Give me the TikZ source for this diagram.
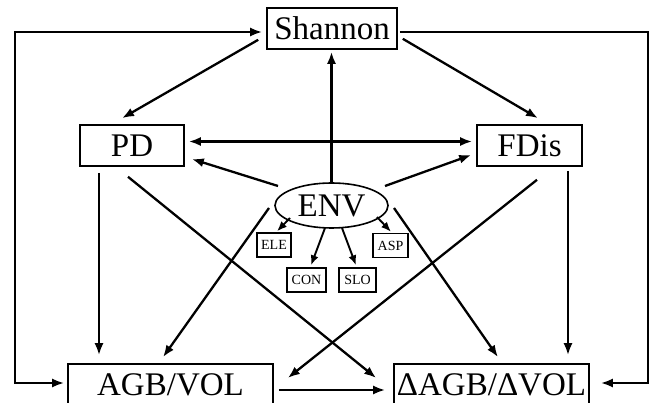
\documentclass[tikz,border=0pt]{standalone}
\usepackage{fontspec}
\setmainfont{Liberation Serif}
\usetikzlibrary{calc,arrows.meta,shapes.geometric}
\begin{document}
\begin{tikzpicture}[x=1pt,y=-1pt,
  bigbox/.style={draw, line width=1.6pt, minimum height=41pt, inner sep=0pt, font=\fontsize{33}{36}\selectfont},
  smallbox/.style={draw, line width=1.4pt, minimum height=24pt, inner sep=0pt, font=\fontsize{14}{16}\selectfont},
  envnode/.style={draw, ellipse, line width=1.6pt, minimum width=113pt, minimum height=45pt, inner sep=0pt, font=\fontsize{33}{36}\selectfont},
  arr/.style={line width=2.3pt, -{Latex[length=12pt,width=9pt]}},
  darr/.style={line width=2.3pt, {Latex[length=12pt,width=9pt]}-{Latex[length=12pt,width=9pt]}},
  sarr/.style={line width=1.9pt, -{Latex[length=10pt,width=8pt]}}]
\clip (0,0) rectangle (654,403);
\fill[white] (0,0) rectangle (654,403);
% nodes
\node[bigbox, minimum width=130pt] (Shannon) at (332,28.5) {Shannon};
\node[bigbox, minimum width=104pt] (PD) at (132,145.5) {PD};
\node[bigbox, minimum width=105pt] (FDis) at (529.5,145.5) {FDis};
\node[envnode] (ENV) at (331.5,205.5) {ENV};
\node[smallbox, minimum width=34pt] (ELE) at (274,245) {ELE};
\node[smallbox, minimum width=35pt] (ASP) at (390.5,245.5) {ASP};
\node[smallbox, minimum width=39pt] (CON) at (306.5,280) {CON};
\node[smallbox, minimum width=37pt] (SLO) at (357.5,280) {SLO};
\node[bigbox, minimum width=205pt] (AGB) at (170.5,384.5) {AGB/VOL};
\node[bigbox, minimum width=195pt] (DAGB) at (491.5,384.5) {ΔAGB/ΔVOL};
% connectors
\draw[arr] ($(Shannon.south west)+(-8,-10)$) -- ($(PD.north)+(-10,-6)$);
\draw[arr] ($(Shannon.south east)+(5,-11)$) -- ($(FDis.north)+(8.5,-6)$);
\draw[arr, shorten >=2pt] (ENV.north) -- (ENV.north |- Shannon.south);
\draw[darr] ($(PD.east)+(4,-4)$) -- ($(FDis.west)+(-4,-4)$);
\draw[arr] ($(ENV.center)+(-53.5,-19.5)$) -- ($(PD.east)+(7,13.5)$);
\draw[arr] ($(ENV.center)+(53.5,-19.5)$) -- ($(FDis.west)+(-5,9.5)$);
\draw[sarr] ($(ENV.center)+(-41.5,12.5)$) -- ($(ELE.north)+(3,-1)$);
\draw[sarr] ($(ENV.center)+(45.5,11.5)$) -- ($(ASP.north)+(0.5,-1)$);
\draw[sarr] ($(ENV.center)+(-6.5,22.5)$) -- ($(CON.north)+(4.5,-2)$);
\draw[sarr] ($(ENV.center)+(10.5,22.5)$) -- ($(SLO.north)+(-1.5,-2)$);
\draw[arr] ($(PD.south)+(-33,6)$) -- ($(AGB.north)+(-71.5,-8)$);
\draw[arr] ($(PD.south)+(-4,10)$) -- ($(DAGB.west)+(-17,-6.5)$);
\draw[arr] ($(FDis.south)+(38.5,4)$) -- ($(DAGB.north)+(76.5,-8)$);
\draw[arr] ($(FDis.south)+(7.5,13)$) -- ($(AGB.east)+(14,-6.5)$);
\draw[arr] ($(ENV.center)+(-62.5,2.5)$) -- ($(AGB.north)+(-7.5,-6)$);
\draw[arr] ($(ENV.center)+(62.5,2.5)$) -- ($(DAGB.north)+(6.5,-6)$);
\draw[arr] ($(AGB.east)+(5,5.5)$) -- ($(DAGB.west)+(-8,5.5)$);
\draw[darr] ($(Shannon.west)+(-4,3.5)$) -| ($(AGB.west)+(-52,-1.5)$) -- ($(AGB.west)+(-3,-1.5)$);
\draw[arr] ($(Shannon.east)+(2,3.5)$) -| ($(DAGB.east)+(58,-1.5)$) -- ($(DAGB.east)+(11,-1.5)$);
\end{tikzpicture}
\end{document}
